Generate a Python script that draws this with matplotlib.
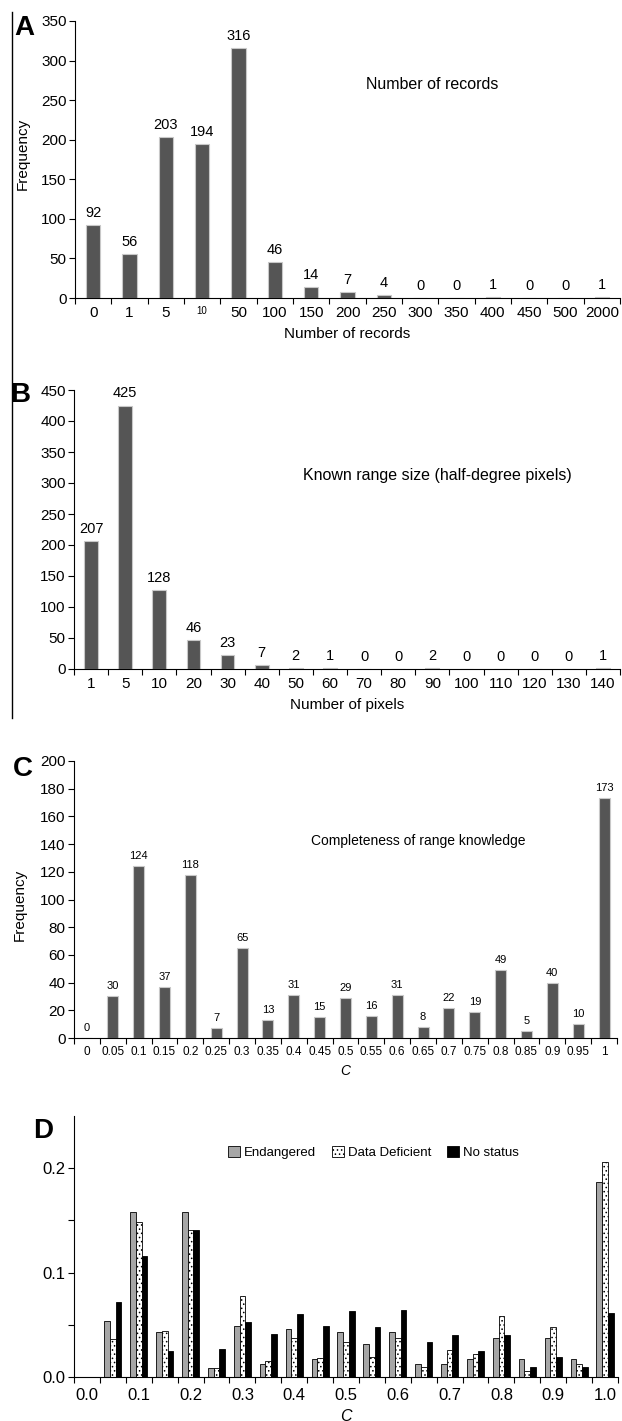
import matplotlib
matplotlib.use('Agg')
import matplotlib.pyplot as plt
from matplotlib.lines import Line2D
from matplotlib.patches import Patch
import numpy as np

plt.rcParams['font.family'] = ['Liberation Sans', 'DejaVu Sans']
plt.rcParams['hatch.linewidth'] = 0.6

# A: number of records
rec_labels = ['0', '1', '5', '10', '50', '100', '150', '200', '250', '300',
              '350', '400', '450', '500', '2000']
rec_counts = [92, 56, 203, 194, 316, 46, 14, 7, 4, 0, 0, 1, 0, 0, 1]

# B: known range size
pix_labels = ['1', '5', '10', '20', '30', '40', '50', '60', '70', '80',
              '90', '100', '110', '120', '130', '140']
pix_counts = [207, 425, 128, 46, 23, 7, 2, 1, 0, 0, 2, 0, 0, 0, 0, 1]

# C: completeness
c_labels = ['0', '0.05', '0.1', '0.15', '0.2', '0.25', '0.3', '0.35', '0.4',
            '0.45', '0.5', '0.55', '0.6', '0.65', '0.7', '0.75', '0.8',
            '0.85', '0.9', '0.95', '1']
c_counts = [0, 30, 124, 37, 118, 7, 65, 13, 31, 15, 29, 16, 31, 8, 22, 19,
            49, 5, 40, 10, 173]

# D: proportion by status
d_labels = ['0.0', '0.1', '0.2', '0.3', '0.4', '0.5', '0.6', '0.7', '0.8',
            '0.9', '1.0']
endangered = [0, 0.054, 0.158, 0.043, 0.158, 0.009, 0.049, 0.012, 0.046,
              0.017, 0.043, 0.032, 0.043, 0.012, 0.012, 0.017, 0.037, 0.017,
              0.037, 0.017, 0.187]
data_def = [0, 0.036, 0.148, 0.044, 0.141, 0.009, 0.078, 0.015, 0.037,
            0.018, 0.034, 0.019, 0.037, 0.010, 0.026, 0.022, 0.058, 0.006,
            0.048, 0.012, 0.206]
no_status = [0, 0.072, 0.116, 0.025, 0.141, 0.027, 0.053, 0.041, 0.060,
             0.049, 0.063, 0.048, 0.064, 0.034, 0.040, 0.025, 0.040, 0.010,
             0.019, 0.010, 0.061]

W, H = 622, 1421
fig = plt.figure(figsize=(W / 100, H / 100), dpi=100)


def box(l, t, r, b):
    return [l / W, 1 - b / H, (r - l) / W, (b - t) / H]


def bar_panel(ax, labels, counts, ymax, ystep, vfs, xfs, yfs, width):
    x = np.arange(len(counts))
    ax.bar(x, counts, width=width, color='#555555', edgecolor='#c8c8c8',
           linewidth=0.8)
    for xi, v in zip(x, counts):
        ax.text(xi, v + ymax * 0.018, str(v), ha='center', va='bottom',
                fontsize=vfs)
    ax.set_xlim(-0.5, len(counts) - 0.5)
    ax.set_ylim(0, ymax)
    ax.set_yticks(np.arange(0, ymax + 1, ystep))
    ax.set_xticks(x)
    ax.set_xticklabels(labels, fontsize=xfs)
    ax.set_xticks(np.arange(-0.5, len(counts)), minor=True)
    ax.tick_params(axis='x', which='major', length=0, pad=6)
    ax.tick_params(axis='x', which='minor', length=4, width=0.8)
    ax.tick_params(axis='y', labelsize=yfs, length=4, width=0.8, pad=2)
    for s in ['top', 'right']:
        ax.spines[s].set_visible(False)
    ax.spines['left'].set_linewidth(0.8)
    ax.spines['bottom'].set_linewidth(0.8)


# Panel A
axA = fig.add_axes(box(75, 21, 620, 298))
bar_panel(axA, rec_labels, rec_counts, 350, 50, 10.5, 11, 11, 0.4)
axA.get_xticklabels()[3].set_fontsize(7)
axA.set_xlabel('Number of records', fontsize=11, labelpad=5)
axA.set_ylabel('Frequency', fontsize=11)
axA.yaxis.set_label_coords(-0.083, 0.52)
axA.text(0.655, 270, 'Number of records', transform=axA.get_yaxis_transform(),
         ha='center', va='center', fontsize=11.5)

# Panel B
axB = fig.add_axes(box(74, 390, 620, 669))
bar_panel(axB, pix_labels, pix_counts, 450, 50, 10.5, 11, 11, 0.4)
axB.set_xlabel('Number of pixels', fontsize=11, labelpad=5)
axB.text(0.665, 312, 'Known range size (half-degree pixels)',
         transform=axB.get_yaxis_transform(), ha='center', va='center',
         fontsize=11.5)

# Panel C
axC = fig.add_axes(box(74, 761, 617, 1038))
bar_panel(axC, c_labels, c_counts, 200, 20, 8, 8.5, 11, 0.42)
axC.set_xlabel('C', fontsize=10, style='italic', labelpad=4)
axC.set_ylabel('Frequency', fontsize=11)
axC.yaxis.set_label_coords(-0.087, 0.48)
axC.text(0.634, 142, 'Completeness of range knowledge',
         transform=axC.get_yaxis_transform(), ha='center', va='center',
         fontsize=10)

# Panel D
axD = fig.add_axes(box(74, 1116, 618, 1377))
xd = np.arange(len(endangered))
bw = 0.22
axD.bar(xd - bw, endangered, width=bw, color='#a6a6a6', edgecolor='black',
        linewidth=0.6)
axD.bar(xd, data_def, width=bw, color='white', edgecolor='black',
        linewidth=0.6, hatch='....')
axD.bar(xd + bw, no_status, width=bw, color='black', edgecolor='black',
        linewidth=0.6)
axD.set_xlim(-0.5, len(endangered) - 0.5)
axD.set_ylim(0, 0.25)
axD.set_yticks([0.0, 0.1, 0.2])
axD.set_yticklabels(['0.0', '0.1', '0.2'])
axD.set_yticks([0.05, 0.15], minor=True)
axD.set_xticks(xd[::2])
axD.set_xticklabels(d_labels)
axD.set_xticks(np.arange(-0.5, len(endangered)), minor=True)
axD.tick_params(axis='x', which='major', length=0, pad=8, labelsize=12)
axD.tick_params(axis='x', which='minor', length=4, width=0.8)
axD.tick_params(axis='y', which='both', length=4, width=0.8, labelsize=12,
                pad=2)
for s in ['top', 'right']:
    axD.spines[s].set_visible(False)
axD.set_xlabel('C', fontsize=11.5, style='italic', labelpad=4)
handles = [Patch(facecolor='#a6a6a6', edgecolor='black', linewidth=0.6),
           Patch(facecolor='white', edgecolor='black', linewidth=0.6,
                 hatch='....'),
           Patch(facecolor='black', edgecolor='black', linewidth=0.6)]
axD.legend(handles, ['Endangered', 'Data Deficient', 'No status'],
           loc='center', bbox_to_anchor=(0.55, 0.86), ncol=3, frameon=False,
           fontsize=9.5, handlelength=0.9, handleheight=0.9,
           handletextpad=0.3, columnspacing=1.2)

# panel letters
for lab, px, py in [('A', 24, 28), ('B', 20, 395), ('C', 23, 769),
                    ('D', 43, 1131)]:
    fig.text(px / W, 1 - py / H, lab, ha='center', va='center',
             fontsize=20, fontweight='bold')

# left border line alongside A and B
fig.add_artist(Line2D([12 / W, 12 / W], [1 - 12 / H, 1 - 718 / H],
                      color='black', linewidth=1))

fig.savefig('out.png', dpi=100)
